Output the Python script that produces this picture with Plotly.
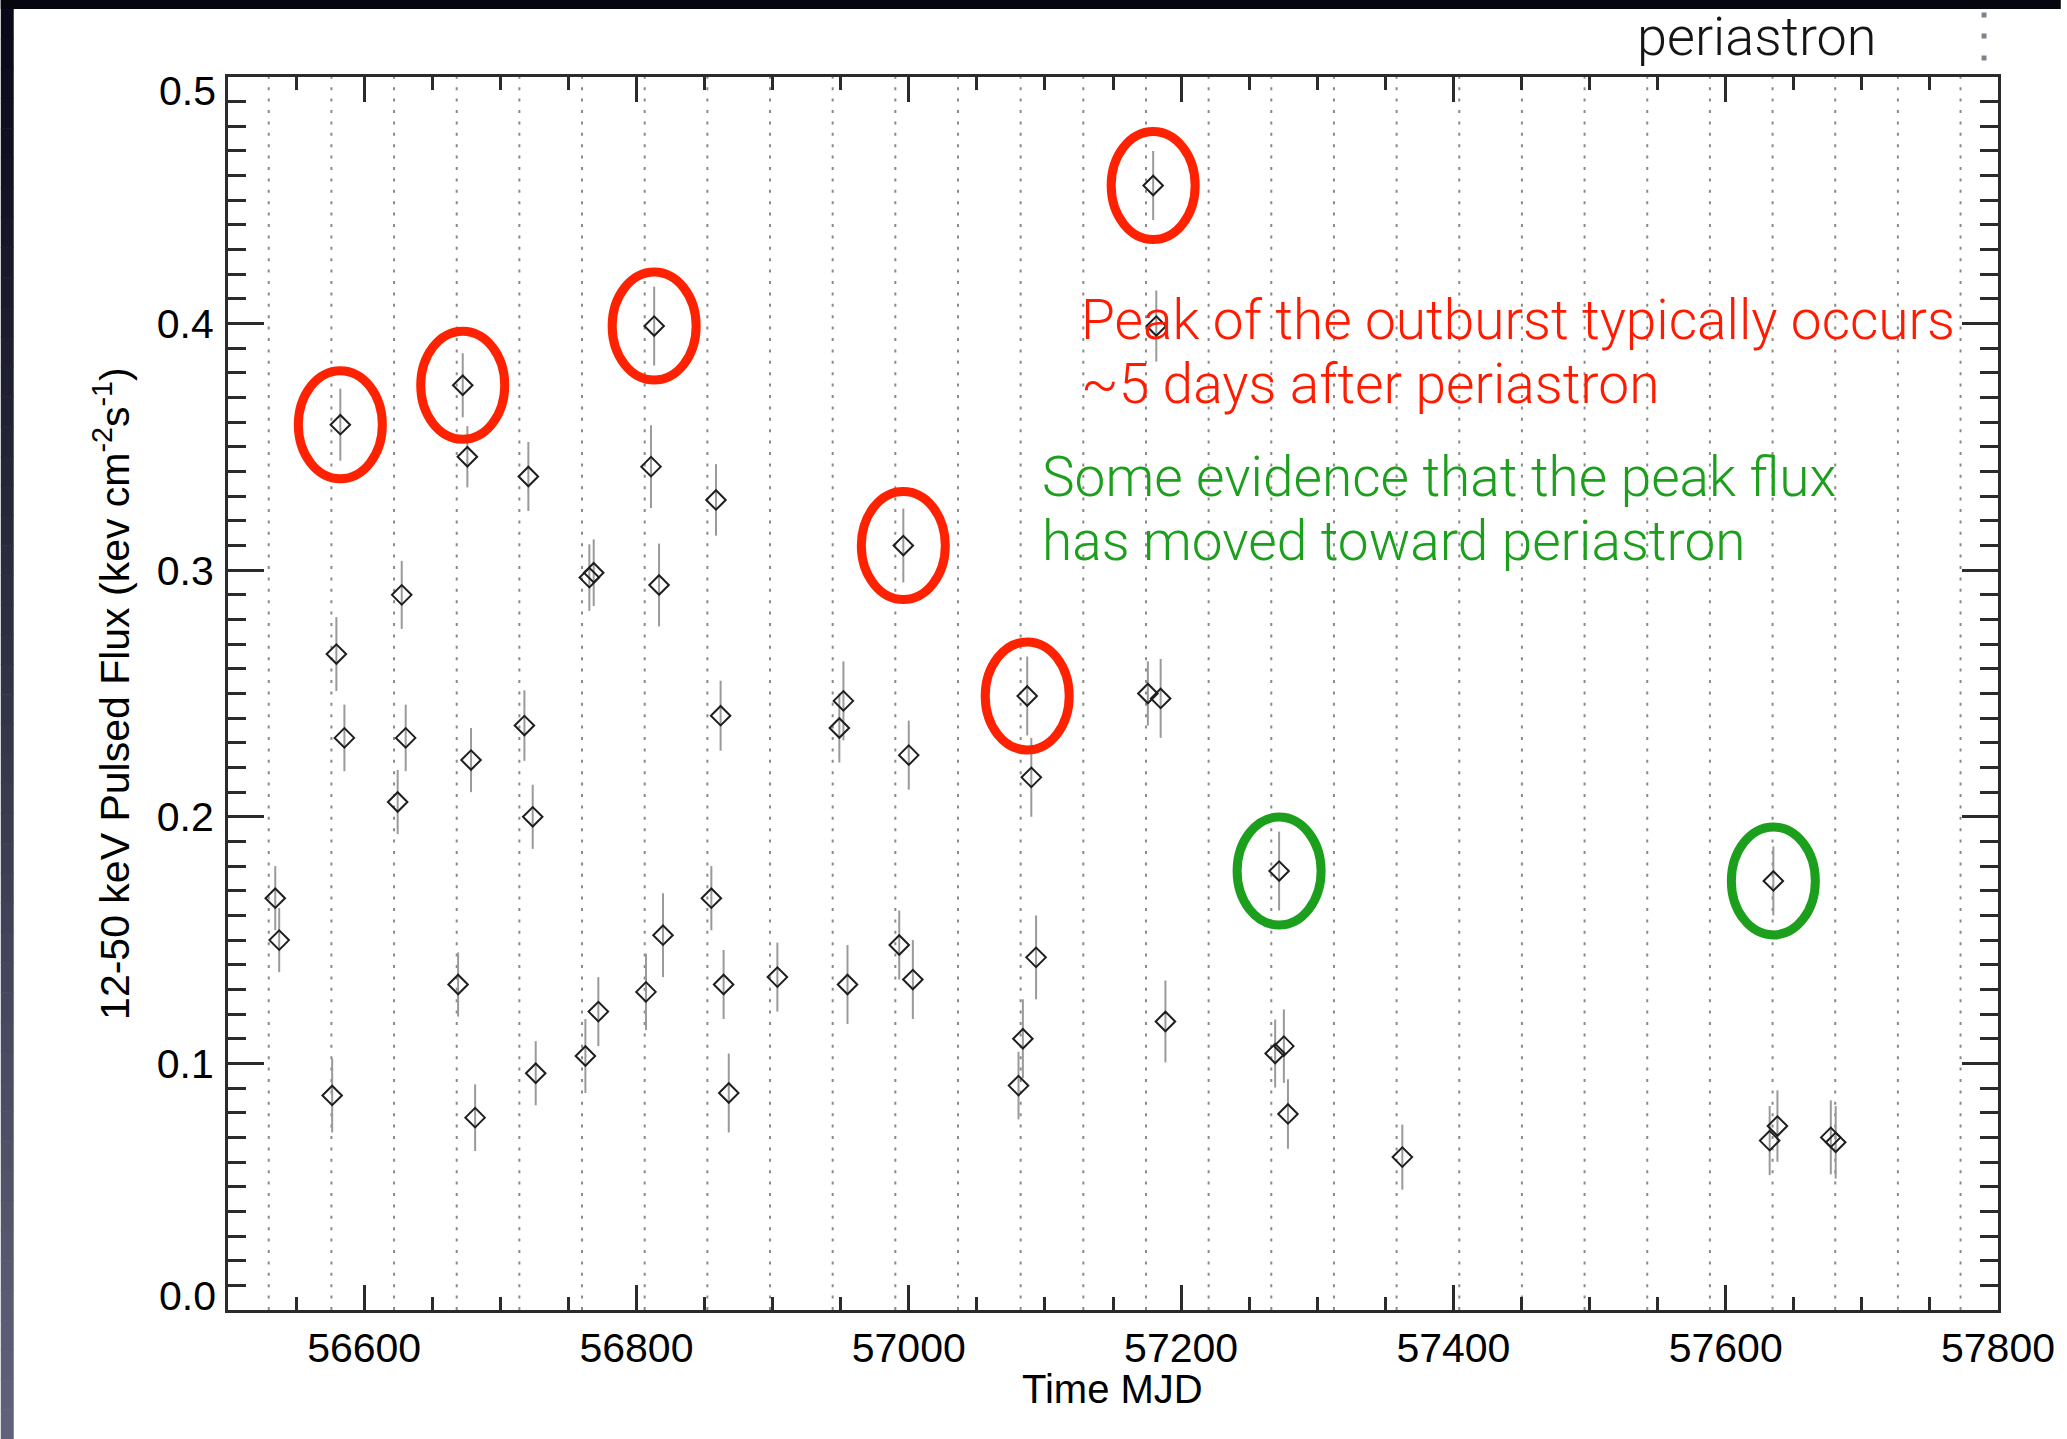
import plotly.graph_objects as go

# ---- data -------------------------------------------------------------
mjd = [
    56534.7, 56537.6, 56576.5, 56579.6, 56582.5, 56585.5, 56624.6, 56627.6, 56630.5, 56669.0,
    56672.4, 56675.8, 56678.5, 56681.5, 56717.7, 56720.6, 56723.8, 56726.0, 56762.5, 56765.4,
    56768.6, 56772.0, 56807.0, 56810.7, 56813.0, 56816.6, 56819.5, 56855.0, 56858.4, 56861.8,
    56864.0, 56867.8, 56903.5, 56949.0, 56952.0, 56955.0, 56993.0, 56996.0, 57000.0, 57003.0,
    57080.6, 57083.8, 57087.0, 57090.0, 57093.5, 57175.6, 57179.5, 57181.8, 57185.0, 57188.5,
    57269.1, 57272.0, 57275.5, 57278.5, 57362.5, 57632.3, 57635.0, 57638.0, 57677.2, 57680.8,
]
flux = [
    0.167, 0.150, 0.087, 0.266, 0.359, 0.232, 0.206, 0.290, 0.232, 0.132,
    0.375, 0.346, 0.223, 0.078, 0.237, 0.338, 0.200, 0.096, 0.103, 0.297,
    0.299, 0.121, 0.129, 0.342, 0.399, 0.294, 0.152, 0.167, 0.3285, 0.241,
    0.132, 0.088, 0.135, 0.236, 0.247, 0.132, 0.148, 0.310, 0.225, 0.134,
    0.091, 0.110, 0.249, 0.216, 0.143, 0.250, 0.456, 0.399, 0.248, 0.117,
    0.104, 0.178, 0.107, 0.0795, 0.062, 0.0687, 0.174, 0.0746, 0.070, 0.068,
]
flux_err = [
    0.013, 0.013, 0.015, 0.015, 0.0146, 0.0135, 0.013, 0.0138, 0.0135, 0.013,
    0.013, 0.0124, 0.013, 0.0135, 0.0143, 0.014, 0.013, 0.013, 0.015, 0.0135,
    0.0135, 0.014, 0.0155, 0.0168, 0.016, 0.0168, 0.017, 0.013, 0.0145, 0.0142,
    0.014, 0.016, 0.014, 0.014, 0.016, 0.016, 0.014, 0.015, 0.014, 0.016,
    0.0137, 0.016, 0.016, 0.016, 0.017, 0.013, 0.014, 0.0144, 0.016, 0.0166,
    0.0138, 0.016, 0.0149, 0.0141, 0.0132, 0.014, 0.014, 0.0145, 0.015, 0.0147,
]

# periastron passages (MJD)
periastron = [
    56529.92, 56575.94, 56621.96, 56667.98, 56714.00, 56760.02, 56806.05,
    56852.07, 56898.09, 56944.11, 56990.13, 57036.15, 57082.17, 57128.19,
    57174.22, 57220.24, 57266.26, 57312.28, 57358.30, 57404.32, 57450.34,
    57496.36, 57542.39, 57588.41, 57634.43, 57680.45, 57726.47, 57772.49,
]

# outburst peaks circled in red, recent peaks circled in green
red_peaks = [4, 10, 24, 37, 42, 46]
green_peaks = [51, 56]

x_ticks = [56600, 56800, 57000, 57200, 57400, 57600, 57800]
y_ticks = [0.0, 0.1, 0.2, 0.3, 0.4, 0.5]

# ---- layout geometry --------------------------------------------------
W, H = 2067, 1439
ML, MR, MT, MB = 228, 63, 77, 129
PW, PH = W - ML - MR, H - MT - MB


def px_x(px):
    return (px - ML) / PW


def px_y(py):
    return (H - MB - py) / PH


RED = "#ff2200"
GREEN = "#1c9f1c"
AXIS = "#2b2b2b"
AX_FONT = "Liberation Sans"
TXT_FONT = "Roboto"
TICK_SIZE = 41

fig = go.Figure()

fig.add_trace(go.Scatter(
    x=mjd, y=flux, mode="markers",
    marker=dict(symbol="diamond-open", size=15, color="#1e1e1e",
                line=dict(width=2, color="#1e1e1e")),
    error_y=dict(type="data", array=flux_err, visible=True,
                 color="#9a9a9a", thickness=2, width=0),
    showlegend=False, hoverinfo="x+y",
))

shapes = []

# page frame: dark top bar and shaded left strip
shapes.append(dict(type="rect", xref="paper", yref="paper",
                   x0=px_x(0), x1=px_x(W), y0=px_y(9), y1=px_y(0),
                   fillcolor="#06060f", line=dict(width=0), layer="below"))
n_bands = 48
top_rgb = (8, 8, 24)
bot_rgb = (98, 98, 124)
band_h = (H - 9) / n_bands
for i in range(n_bands):
    t = (i + 0.5) / n_bands
    c = tuple(int(round(a + (b - a) * t)) for a, b in zip(top_rgb, bot_rgb))
    y_top = 9 + i * band_h
    shapes.append(dict(type="rect", xref="paper", yref="paper",
                       x0=px_x(0), x1=px_x(13),
                       y0=px_y(y_top + band_h + 0.6), y1=px_y(y_top),
                       fillcolor="rgb(%d,%d,%d)" % c, line=dict(width=0),
                       layer="below"))
shapes.append(dict(type="rect", xref="paper", yref="paper",
                   x0=px_x(0), x1=px_x(13), y0=px_y(9), y1=px_y(0),
                   fillcolor="#06060f", line=dict(width=0), layer="below"))

# periastron markers
for p in periastron:
    shapes.append(dict(type="line", xref="x", yref="paper", x0=p, x1=p, y0=0, y1=1,
                       line=dict(color="#8a8a8a", width=2, dash="3px,8.4px"),
                       layer="below"))

# legend glyph for periastron lines
for cy in (15, 36, 58):
    shapes.append(dict(type="rect", xref="paper", yref="paper",
                       x0=px_x(1987.5), x1=px_x(1992.5),
                       y0=px_y(cy + 2.5), y1=px_y(cy - 2.5),
                       fillcolor="#7b838f", line=dict(width=0)))

# rings around the highlighted peaks
for idx_list, col in ((red_peaks, RED), (green_peaks, GREEN)):
    for i in idx_list:
        shapes.append(dict(type="circle", xref="x", yref="y",
                           xsizemode="pixel", ysizemode="pixel",
                           xanchor=mjd[i], yanchor=flux[i],
                           x0=-42, x1=42, y0=-54, y1=54,
                           line=dict(color=col, width=9), layer="above"))

annotations = [
    dict(text="periastron", xref="paper", yref="paper", x=px_x(1762), y=px_y(37),
         xanchor="center", yanchor="middle", showarrow=False,
         font=dict(family=TXT_FONT, size=54, color="#151515", weight=300)),
    dict(text="Peak of the outburst typically occurs", xref="paper", yref="paper",
         x=px_x(1082), y=px_y(320), xanchor="left", yanchor="middle", showarrow=False,
         font=dict(family=TXT_FONT, size=55, color="#ff1a00", weight=300)),
    dict(text="~5 days after periastron", xref="paper", yref="paper",
         x=px_x(1082), y=px_y(384), xanchor="left", yanchor="middle", showarrow=False,
         font=dict(family=TXT_FONT, size=55, color="#ff1a00", weight=300)),
    dict(text="Some evidence that the peak flux", xref="paper", yref="paper",
         x=px_x(1043), y=px_y(477), xanchor="left", yanchor="middle", showarrow=False,
         font=dict(family=TXT_FONT, size=55, color=GREEN, weight=300)),
    dict(text="has moved toward periastron", xref="paper", yref="paper",
         x=px_x(1043), y=px_y(541), xanchor="left", yanchor="middle", showarrow=False,
         font=dict(family=TXT_FONT, size=55, color=GREEN, weight=300)),
    dict(text="12-50 keV Pulsed Flux (kev cm<sup>-2</sup>s<sup>-1</sup>)",
         xref="paper", yref="paper", x=px_x(111), y=0.5, textangle=-90,
         xanchor="center", yanchor="middle", showarrow=False,
         font=dict(family=AX_FONT, size=41, color="#000000")),
    dict(text="Time MJD", xref="paper", yref="paper", x=px_x(1115), y=px_y(1389),
         xanchor="center", yanchor="middle", showarrow=False,
         font=dict(family=AX_FONT, size=40, color="#000000")),
]

# the end labels of the flux axis sit just inside the frame
for v, shift in ((y_ticks[0], 14), (y_ticks[-1], -14)):
    annotations.append(dict(
        text="%.1f" % v, xref="paper", yref="y", x=px_x(218), y=v, yshift=shift,
        xanchor="right", yanchor="middle", showarrow=False,
        font=dict(family=AX_FONT, size=TICK_SIZE, color="#000000")))

inner_y_ticks = y_ticks[1:-1]

fig.update_layout(
    width=W, height=H,
    margin=dict(l=ML, r=MR, t=MT, b=MB, pad=0),
    paper_bgcolor="white", plot_bgcolor="white",
    shapes=shapes, annotations=annotations,
    showlegend=False,
)

fig.update_xaxes(
    range=[56500, 57800], tickmode="array", tickvals=x_ticks,
    ticktext=[str(v) for v in x_ticks],
    ticks="inside", ticklen=25, tickwidth=2.5, tickcolor=AXIS,
    minor=dict(dtick=50, tick0=56500, ticks="inside", ticklen=13, tickwidth=2.5,
               tickcolor=AXIS, showgrid=False),
    showline=True, linewidth=3, linecolor=AXIS, mirror="ticks",
    showgrid=False, zeroline=False,
    tickfont=dict(family=AX_FONT, size=TICK_SIZE, color="#000000"),
    ticklabelstandoff=0,
)
fig.update_yaxes(
    range=[0, 0.5], tickmode="array", tickvals=inner_y_ticks,
    ticktext=["%.1f" % v for v in inner_y_ticks],
    ticks="inside", ticklen=36, tickwidth=2.5, tickcolor=AXIS,
    minor=dict(dtick=0.01, tick0=0, ticks="inside", ticklen=18, tickwidth=2.5,
               tickcolor=AXIS, showgrid=False),
    showline=True, linewidth=3, linecolor=AXIS, mirror="ticks",
    showgrid=False, zeroline=False,
    tickfont=dict(family=AX_FONT, size=TICK_SIZE, color="#000000"),
    ticklabelstandoff=3,
)

fig.write_html("out.html")
